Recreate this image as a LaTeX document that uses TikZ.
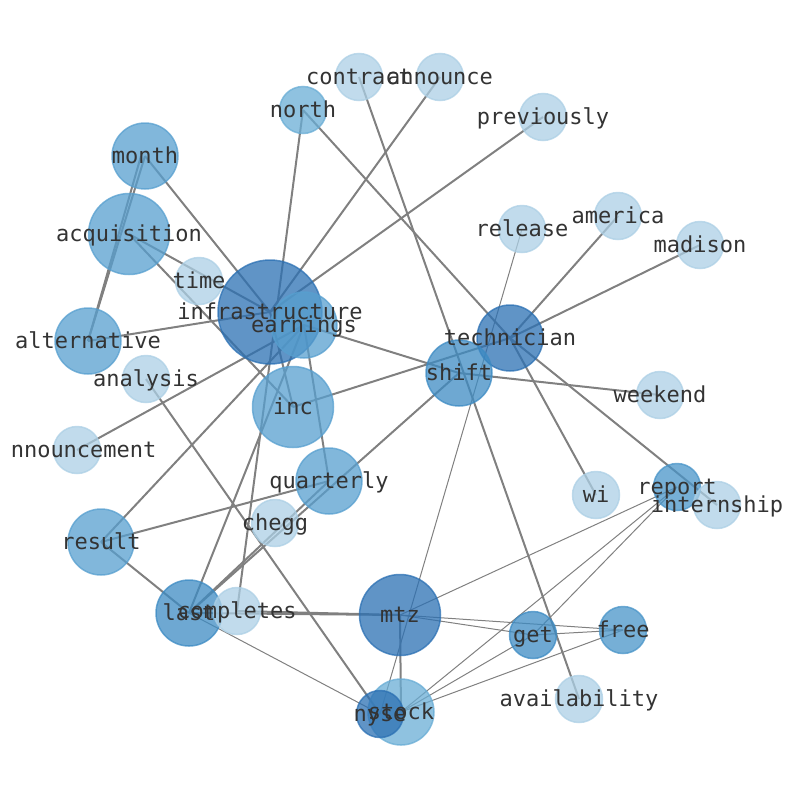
\documentclass[tikz,border=0pt]{standalone}
\usepackage{fontspec}
\setmonofont{DejaVu Sans Mono}
\usetikzlibrary{backgrounds}
\definecolor{toneA}{RGB}{172,207,229}
\definecolor{toneB}{RGB}{105,173,213}
\definecolor{toneC}{RGB}{87,159,207}
\definecolor{toneD}{RGB}{72,148,200}
\definecolor{toneE}{RGB}{61,139,195}
\definecolor{toneF}{RGB}{43,112,179}
\tikzset{
x=1pt, y=-1pt, % one unit is one pixel of the plot, y downwards
word/.style={circle, inner sep=0pt, line width=1.5pt, fill opacity=0.75, draw opacity=0.75}, % the discs
smallword/.style={word, minimum size=47pt},
midword/.style={word, minimum size=66pt},
bigword/.style={word, minimum size=81pt},
hugeword/.style={word, minimum size=104pt},
tone1/.style={fill=toneA, draw=toneA},
tone2/.style={fill=toneB, draw=toneB},
tone3/.style={fill=toneC, draw=toneC},
tone4/.style={fill=toneD, draw=toneD},
tone5/.style={fill=toneE, draw=toneE},
tone6/.style={fill=toneF, draw=toneF},
wordtext/.style={inner sep=0pt, text height=17pt, text depth=3pt, text=black!80,
  font=\ttfamily\fontsize{22}{24}\selectfont}, % labels on top of everything
link/.style={draw=black!50, line width=2pt}, % heavy edges
thinlink/.style={draw=black!50, line width=1pt}, % light edges
}
\begin{document}
\begin{tikzpicture}
    \useasboundingbox (0,0) rectangle (794,790);
    \clip (10,0) rectangle (794,790); % plot area starts a little in from the left
    \node[smallword, tone1] (contract) at (359,77) {};
    \node[smallword, tone1] (announce) at (440,77) {};
    \node[smallword, tone2] (north) at (303,110) {};
    \node[smallword, tone1] (previously) at (543,117) {};
    \node[midword, tone3] (month) at (145,156) {};
    \node[bigword, tone3] (acquisition) at (129,234) {};
    \node[smallword, tone1] (release) at (522,229) {};
    \node[smallword, tone1] (america) at (618,216) {};
    \node[smallword, tone1] (madison) at (700,245) {};
    \node[smallword, tone1] (time) at (199,281) {};
    \node[hugeword, tone6] (infrastructure) at (270,312) {};
    \node[midword, tone3] (earnings) at (304,325) {};
    \node[midword, tone3] (alternative) at (88,341) {};
    \node[midword, tone6] (technician) at (510,338) {};
    \node[smallword, tone1] (analysis) at (146,379) {};
    \node[midword, tone5] (shift) at (459,373) {};
    \node[smallword, tone1] (weekend) at (660,395) {};
    \node[bigword, tone3] (inc) at (293,407) {};
    \node[smallword, tone1] (announcement) at (77,450) {};
    \node[midword, tone3] (quarterly) at (329,481) {};
    \node[smallword, tone1] (wi) at (596,495) {};
    \node[smallword, tone4] (report) at (677,487) {};
    \node[smallword, tone1] (internship) at (717,505) {};
    \node[smallword, tone1] (chegg) at (275,523) {};
    \node[midword, tone3] (result) at (101,542) {};
    \node[midword, tone5] (last) at (189,613) {};
    \node[smallword, tone1] (completes) at (237,611) {};
    \node[bigword, tone6] (mtz) at (400,615) {};
    \node[smallword, tone5] (get) at (533,635) {};
    \node[smallword, tone4] (free) at (623,630) {};
    \node[smallword, tone1] (availability) at (579,699) {};
    \node[midword, tone2] (stock) at (401,712) {};
    \node[smallword, tone6] (nyse) at (380,714) {};

    \begin{pgfonlayer}{background}
    \draw[link]
    (month.center) edge (infrastructure.center)
    (month.center) edge (alternative.center)
    ([xshift=-4pt]month.center) edge (alternative.center)
    (acquisition.center) edge (infrastructure.center)
    (acquisition.center) edge (inc.center)
    (north.center) edge (completes.center)
    (north.center) edge (technician.center)
    (contract.center) edge (availability.center)
    (announce.center) edge (infrastructure.center)
    (previously.center) edge (infrastructure.center)
    (alternative.center) edge (infrastructure.center)
    (analysis.center) edge (nyse.center)
    (announcement.center) edge (earnings.center)
    (infrastructure.center) edge (inc.center)
    (earnings.center) edge (shift.center)
    (earnings.center) edge (quarterly.center)
    (earnings.center) edge (last.center)
    (result.center) edge (earnings.center)
    (result.center) edge (quarterly.center)
    (result.center) edge (last.center)
    (inc.center) edge (technician.center)
    (quarterly.center) edge (last.center)
    (shift.center) edge (last.center)
    (shift.center) edge (weekend.center)
    (america.center) edge (technician.center)
    (madison.center) edge (technician.center)
    (technician.center) edge (wi.center)
    (technician.center) edge (internship.center)
    (last.center) edge (mtz.center)
    (completes.center) edge (mtz.center)
    (mtz.center) edge (stock.center);
    \draw[thinlink]
    (release.center) edge (nyse.center)
    (last.center) edge (nyse.center)
    (mtz.center) edge (get.center)
    (mtz.center) edge (free.center)
    (mtz.center) edge (report.center)
    (stock.center) edge (report.center)
    (stock.center) edge (get.center)
    (stock.center) edge (free.center)
    (get.center) edge (report.center)
    (get.center) edge (free.center);
    \end{pgfonlayer}

    \foreach \w in {contract, announce, north, previously, month, acquisition, release,
      america, madison, time, infrastructure, earnings, alternative, technician,
      analysis, shift, weekend, inc, announcement, quarterly, wi, report, internship,
      chegg, result, last, completes, mtz, get, free, availability, nyse, stock}
      \node[wordtext] at (\w) {\w};
  \end{tikzpicture}
\end{document}
